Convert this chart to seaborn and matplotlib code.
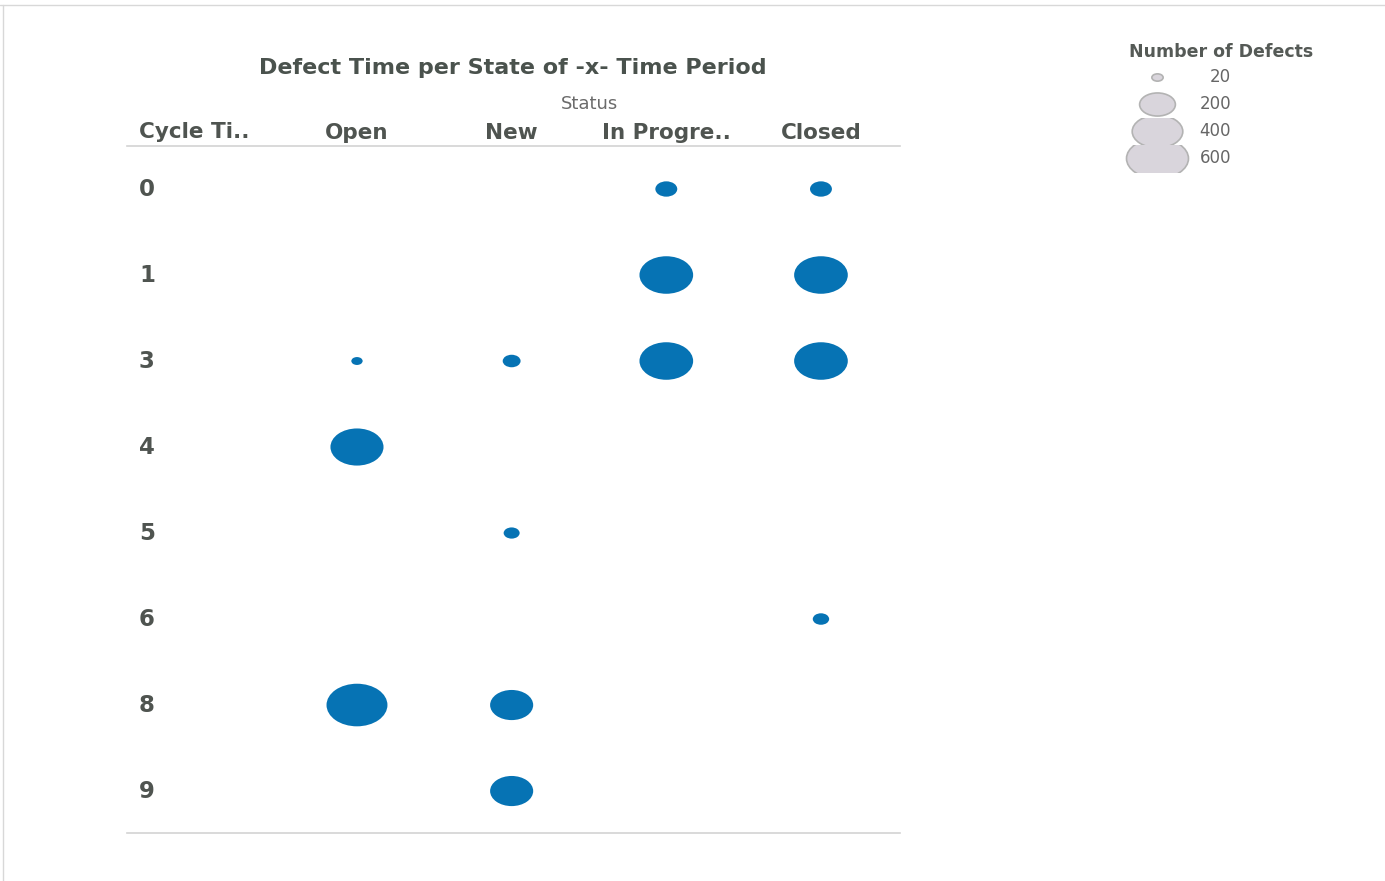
import numpy as np
import pandas as pd
import matplotlib
matplotlib.use("Agg")
import matplotlib.pyplot as plt
from matplotlib.path import Path
from matplotlib.markers import MarkerStyle
from matplotlib.patches import Rectangle
from matplotlib.lines import Line2D
import matplotlib.transforms as mtransforms
import seaborn as sns

# ---------------- data ----------------
status_order = ["Open", "New", "In Progress", "Closed"]
status_labels = ["Open", "New", "In Progre..", "Closed"]
cycle_rows = ["0", "1", "3", "4", "5", "6", "8", "9"]

rec_cycle = ["0", "0", "1", "1", "3", "3", "3", "3", "4", "5", "6", "8", "8", "9"]
rec_status = ["In Progress", "Closed", "In Progress", "Closed", "Open", "New",
              "In Progress", "Closed", "Open", "New", "Closed", "Open", "New", "New"]
rec_count = [75, 75, 450, 450, 20, 50, 450, 450, 440, 40, 42, 580, 290, 290]

legend_values = [20, 200, 400, 600]

title = "Defect Time per State of -x- Time Period"
col_title = "Status"
row_header = "Cycle Ti.."
legend_title = "Number of Defects"

# ---------------- styling ----------------
W, H = 1385, 881
DPI = 100
BLUE = "#0673b4"
TXT = "#4f5450"
LINE = "#d3d3d3"
SIZE_NORM = (0, 600)
SIZES = (0, 3.318 * 600)

def ellipse_marker(ratio):
    p = Path.unit_circle()
    v = p.vertices.copy()
    v[:, 1] = v[:, 1] / ratio
    return MarkerStyle(Path(v, p.codes))

sns.set_theme(style="white")
plt.rcParams["font.family"] = ["DejaVu Sans"]

fig = plt.figure(figsize=(W / DPI, H / DPI), dpi=DPI)

def px_axes(x0, y0, x1, y1):
    return fig.add_axes([x0 / W, 1 - y1 / H, (x1 - x0) / W, (y1 - y0) / H])

df = pd.DataFrame({
    "cycle": pd.Categorical(rec_cycle, categories=cycle_rows),
    "status": pd.Categorical(rec_status, categories=status_order),
    "count": rec_count,
})
df["xi"] = df["status"].cat.codes
df["yi"] = df["cycle"].cat.codes

# ---------------- main panel ----------------
ax = px_axes(127, 146, 900, 833)
sns.scatterplot(data=df, x="xi", y="yi", size="count", sizes=SIZES,
                size_norm=SIZE_NORM, color=BLUE, linewidth=0,
                marker=ellipse_marker(1.43), legend=False, ax=ax, zorder=3)
ax.set_xlim(-1.487, 3.511)
ax.set_ylim(7.488, -0.5)
ax.set_xlabel("")
ax.set_ylabel("")
ax.set_yticks([])
ax.xaxis.tick_top()
ax.set_xticks(range(len(status_order)))
ax.set_xticklabels(status_labels, fontsize=15.5, fontweight="bold", color=TXT)
ax.tick_params(axis="x", length=0, pad=2)
for s in ["left", "right"]:
    ax.spines[s].set_visible(False)
for s in ["top", "bottom"]:
    ax.spines[s].set_color(LINE)
    ax.spines[s].set_linewidth(1.2)

trans_y = mtransforms.blended_transform_factory(fig.transFigure, ax.transData)
for i, lab in enumerate(cycle_rows):
    ax.text(139 / W, i, lab, transform=trans_y, fontsize=16.5, fontweight="bold",
            color=TXT, ha="left", va="center")

fig.text(139 / W, 1 - 132 / H, row_header, fontsize=15.5, fontweight="bold",
         color=TXT, ha="left", va="center")
fig.text(590 / W, 1 - 104 / H, col_title, fontsize=13, color="#6b6b6b",
         ha="center", va="center")
fig.text(513 / W, 1 - 68 / H, title, fontsize=16, fontweight="bold",
         color="#4a524d", ha="center", va="center")

# ---------------- size legend ----------------
lax = px_axes(1100, 63.5, 1250, 171.5)
lax.set_xlim(0, 150)
lax.set_ylim(3.5, -0.5)
lax.axis("off")
leg_marker = ellipse_marker(1.55)
for i, v in enumerate(legend_values):
    ldf = pd.DataFrame({"x": [57], "y": [i], "count": [v]})
    sns.scatterplot(data=ldf, x="x", y="y", size="count", sizes=SIZES,
                    size_norm=SIZE_NORM, color="#d9d5dc", edgecolor="#b3b3b3",
                    linewidth=1.2, marker=leg_marker, legend=False, ax=lax)
    coll = lax.collections[-1]
    clip = Rectangle((0, i - 0.5), 150, 1.0, transform=lax.transData)
    coll.set_clip_path(clip)
    lax.text(131, i, str(v), fontsize=12, color="#666666",
             ha="right", va="center")
lax.set_xlabel("")
lax.set_ylabel("")
fig.text(1221 / W, 1 - 52 / H, legend_title, fontsize=12.5, fontweight="bold",
         color="#555a56", ha="center", va="center")

# ---------------- outer frame lines ----------------
fig.add_artist(Line2D([0, 1], [1 - 5 / H, 1 - 5 / H], transform=fig.transFigure,
                      color="#d8d8d8", linewidth=1))
fig.add_artist(Line2D([3 / W, 3 / W], [0, 1 - 5 / H], transform=fig.transFigure,
                      color="#d8d8d8", linewidth=1))

fig.savefig("out.png", dpi=DPI)
